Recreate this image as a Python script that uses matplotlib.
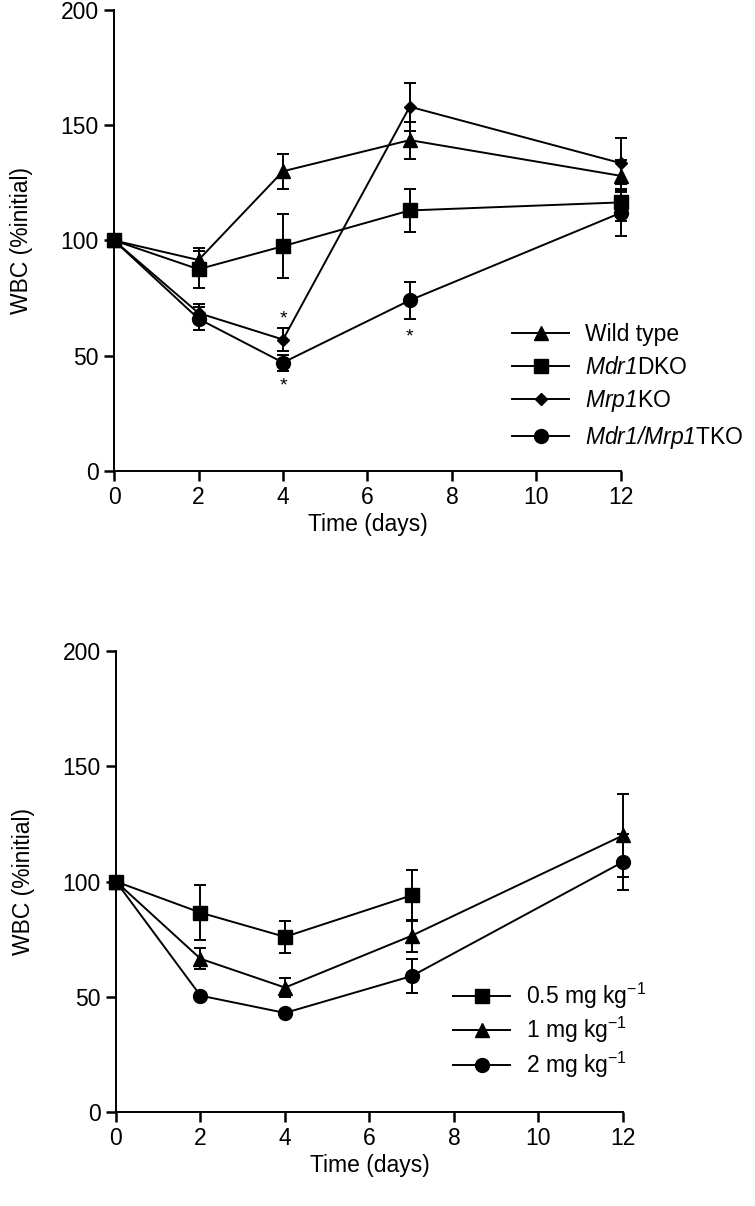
from matplotlib import pyplot as plt
import numpy as np

plt.rcParams['font.family'] = ['Liberation Sans', 'DejaVu Sans']
plt.rcParams['mathtext.fontset'] = 'custom'
plt.rcParams['mathtext.rm'] = 'Liberation Sans'
plt.rcParams['mathtext.sf'] = 'Liberation Sans:italic'

days = [0, 2, 4, 7, 12]

# top panel: genotypes
wt = [100, 91.5, 130, 143.5, 128]
wt_err = [0, 5, 7.5, 8, 7]
dko = [100, 87.5, 97.5, 113, 116.5]
dko_err = [0, 8, 14, 9.5, 8]
mrp = [100, 68.5, 57, 158, 133.5]
mrp_err = [0, 4, 5, 10.5, 11]
tko = [100, 66, 47, 74, 112]
tko_err = [0, 5, 3.5, 8, 10]

star_x = [4, 4, 7]
star_y = [66, 37, 58]

# bottom panel: doses
d05_days = [0, 2, 4, 7]
d05 = [100, 86.5, 76, 94]
d05_err = [0, 12, 7, 11]
d1 = [100, 66.5, 54, 76.5, 120]
d1_err = [0, 4.5, 4, 7, 18]
d2 = [100, 50.5, 43, 59, 108.5]
d2_err = [0, 0, 0, 7.5, 12]

FS = 16.5


def style_axes(ax):
    ax.set_xlim(0, 12)
    ax.set_ylim(0, 200)
    ax.set_xticks([0, 2, 4, 6, 8, 10, 12])
    ax.set_yticks([0, 50, 100, 150, 200])
    for s in ["top", "right"]:
        ax.spines[s].set_visible(False)
    for s in ["left", "bottom"]:
        ax.spines[s].set_linewidth(1.4)
    ax.tick_params(axis="both", direction="out", length=7, width=1.8,
                   labelsize=FS, pad=4)
    ax.set_xlabel("Time (days)", fontsize=FS, labelpad=3)
    ax.set_ylabel("WBC (%initial)", fontsize=FS, labelpad=20)


def series(ax, x, y, err, marker, ms, label):
    ax.errorbar(x, y, yerr=err, color="black", marker=marker, ms=ms,
                lw=1.4, elinewidth=1.4, capsize=4.5, capthick=1.4,
                label=label, clip_on=False, zorder=3)


def main():
    fig = plt.figure(figsize=(7.55, 12.06), dpi=100)
    ax1 = fig.add_axes([0.1510, 0.6095, 0.6715, 0.3823])
    ax2 = fig.add_axes([0.1536, 0.0779, 0.6715, 0.3823])

    series(ax1, days, wt, wt_err, "^", 10, "Wild type")
    series(ax1, days, dko, dko_err, "s", 9.5, "$\\mathsf{Mdr1}$DKO")
    series(ax1, days, mrp, mrp_err, "D", 6.5, "$\\mathsf{Mrp1}$KO")
    series(ax1, days, tko, tko_err, "o", 10, "$\\mathsf{Mdr1/Mrp1}$TKO")
    for x, y in zip(star_x, star_y):
        ax1.text(x, y, "*", ha="center", va="center", fontsize=14)
    style_axes(ax1)
    h, l = ax1.get_legend_handles_labels()
    h = [hh[0] for hh in h]
    ax1.legend(h, l, loc="upper left", bbox_to_anchor=(0.678, 0.732),
               bbox_transform=fig.transFigure, frameon=False, fontsize=FS,
               handlelength=2.5, handletextpad=0.7, labelspacing=0.42,
               borderaxespad=0, borderpad=0)

    series(ax2, d05_days, d05, d05_err, "s", 9.5, "0.5 mg kg$^{-1}$")
    series(ax2, days, d1, d1_err, "^", 10, "1 mg kg$^{-1}$")
    series(ax2, days, d2, d2_err, "o", 10, "2 mg kg$^{-1}$")
    style_axes(ax2)
    h, l = ax2.get_legend_handles_labels()
    h = [hh[0] for hh in h]
    ax2.legend(h, l, loc="upper left", bbox_to_anchor=(0.6, 0.187),
               bbox_transform=fig.transFigure, frameon=False, fontsize=FS,
               handlelength=2.5, handletextpad=0.7, labelspacing=0.2,
               borderaxespad=0, borderpad=0)

    fig.savefig("out.png", dpi=100)


if __name__ == '__main__':
    main()
